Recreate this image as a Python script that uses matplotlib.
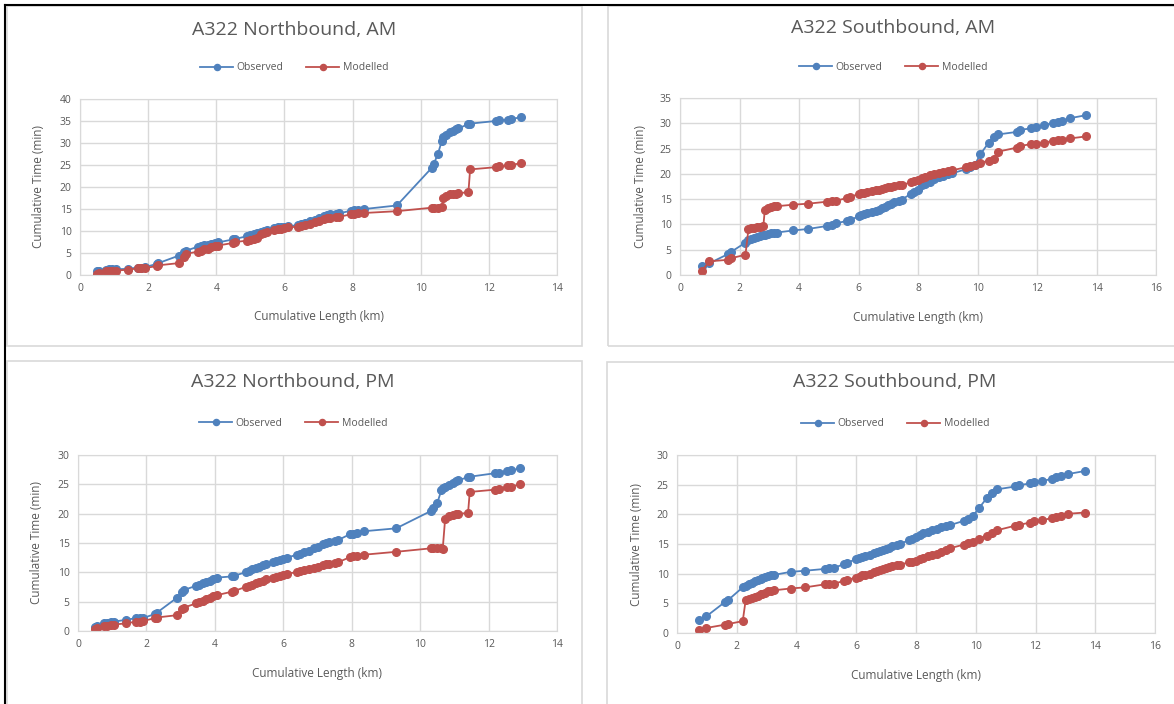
import matplotlib
matplotlib.use("Agg")
import matplotlib.pyplot as plt
from matplotlib.patches import Rectangle
from matplotlib.lines import Line2D

plt.rcParams['font.family'] = ['Open Sans', 'DejaVu Sans']

# cumulative length of each timing point (km), shared by AM and PM runs
nb_km = [0.5, 0.55, 0.75, 0.85, 0.95, 1.05, 1.4, 1.7, 1.8, 1.9, 2.25, 2.3, 2.9, 3.05, 3.1,
         3.45, 3.55, 3.65, 3.75, 3.85, 3.95, 4.05, 4.5, 4.55, 4.9, 5.0, 5.1, 5.2, 5.3, 5.4, 5.5,
         5.7, 5.8, 5.9, 6.0, 6.1, 6.4, 6.5, 6.6, 6.75, 6.9, 7.0, 7.15, 7.25, 7.35, 7.5, 7.6,
         7.95, 8.05, 8.15, 8.35, 9.3, 10.33, 10.38, 10.5, 10.62, 10.66, 10.73, 10.85, 10.95,
         11.05, 11.1, 11.4, 11.45, 12.2, 12.3, 12.55, 12.65, 12.93]

nb_am_obs = [0.8, 0.9, 1.2, 1.3, 1.3, 1.3, 1.4, 1.7, 1.7, 1.8, 2.5, 2.7, 4.4, 5.2, 5.5,
             6.4, 6.6, 6.8, 6.9, 7.1, 7.2, 7.4, 8.1, 8.2, 8.8, 9.1, 9.4, 9.6, 9.8, 10.0, 10.2,
             10.6, 10.8, 10.9, 11.0, 11.1, 11.3, 11.6, 11.9, 12.3, 12.6, 12.9, 13.3, 13.6, 13.8,
             13.9, 14.0, 14.6, 14.7, 14.8, 15.0, 15.8, 24.4, 25.2, 27.4, 30.5, 31.3, 31.8, 32.4,
             32.8, 33.1, 33.3, 34.3, 34.4, 35.0, 35.2, 35.3, 35.5, 35.8]
nb_am_mod = [0.2, 0.5, 0.9, 0.9, 1.0, 1.0, 1.2, 1.5, 1.5, 1.6, 2.0, 2.2, 2.7, 4.2, 4.8,
             5.3, 5.5, 5.8, 6.0, 6.3, 6.5, 6.7, 7.3, 7.5, 7.8, 8.0, 8.1, 8.3, 9.4, 9.6, 9.8,
             10.2, 10.4, 10.5, 10.6, 10.8, 11.0, 11.2, 11.4, 11.7, 12.0, 12.3, 12.7, 12.9, 13.0,
             13.1, 13.2, 13.8, 13.9, 14.0, 14.1, 14.5, 15.3, 15.3, 15.3, 15.4, 17.5, 17.9, 18.3,
             18.4, 18.5, 18.6, 18.8, 24.0, 24.5, 24.7, 24.9, 25.0, 25.4]
nb_pm_obs = [0.7, 0.9, 1.3, 1.4, 1.5, 1.6, 1.9, 2.2, 2.2, 2.2, 2.9, 3.1, 5.7, 6.7, 7.0,
             7.7, 7.9, 8.1, 8.4, 8.6, 8.9, 9.1, 9.3, 9.4, 10.0, 10.2, 10.5, 10.7, 10.9, 11.2, 11.4,
             11.7, 11.9, 12.1, 12.3, 12.5, 13.0, 13.2, 13.4, 13.7, 14.1, 14.3, 14.8, 15.0, 15.2,
             15.4, 15.5, 16.5, 16.6, 16.7, 17.0, 17.5, 20.5, 21.0, 21.8, 24.0, 24.3, 24.6, 24.9,
             25.2, 25.5, 25.7, 26.2, 26.3, 26.9, 27.0, 27.3, 27.4, 27.7]
nb_pm_mod = [0.3, 0.5, 0.8, 0.9, 1.0, 1.1, 1.3, 1.6, 1.6, 1.7, 2.2, 2.3, 2.7, 3.7, 4.0,
             4.7, 4.9, 5.1, 5.4, 5.6, 5.9, 6.1, 6.7, 6.8, 7.5, 7.7, 7.9, 8.1, 8.4, 8.6, 8.8,
             9.1, 9.2, 9.3, 9.6, 9.8, 10.0, 10.2, 10.4, 10.6, 10.8, 10.9, 11.3, 11.4, 11.5,
             11.6, 11.7, 12.6, 12.7, 12.8, 13.0, 13.5, 14.1, 14.1, 14.1, 14.1, 14.0, 19.1, 19.6,
             19.8, 19.9, 20.0, 20.1, 23.7, 24.1, 24.2, 24.5, 24.6, 25.0]

sb_km = [0.73, 0.98, 1.6, 1.7, 2.2, 2.3, 2.4, 2.5, 2.6, 2.7, 2.8, 2.85, 2.95, 3.05, 3.15, 3.25,
         3.8, 4.3, 4.95, 5.1, 5.25, 5.6, 5.7, 6.0, 6.1, 6.2, 6.3, 6.45, 6.6, 6.7, 6.8, 6.9,
         7.0, 7.1, 7.2, 7.35, 7.45, 7.75, 7.85, 8.0, 8.15, 8.25, 8.4, 8.55, 8.7, 8.85, 9.0,
         9.15, 9.6, 9.75, 9.9, 10.1, 10.38, 10.55, 10.7, 11.33, 11.44, 11.8, 11.95, 12.23,
         12.55, 12.7, 12.85, 13.1, 13.65]

sb_am_obs = [1.8, 2.3, 4.1, 4.5, 6.4, 6.9, 7.1, 7.3, 7.5, 7.7, 7.9, 8.0, 8.1, 8.3, 8.4, 8.4,
             8.8, 9.1, 9.7, 9.9, 10.2, 10.7, 10.8, 11.6, 11.8, 12.0, 12.2, 12.4, 12.6, 12.9,
             13.2, 13.5, 13.8, 14.1, 14.4, 14.7, 14.9, 16.0, 16.4, 16.9, 17.7, 18.0, 18.4, 18.9,
             19.3, 19.6, 19.9, 20.1, 20.9, 21.3, 21.7, 23.9, 26.2, 27.3, 27.8, 28.3, 28.7, 29.0,
             29.2, 29.7, 30.0, 30.2, 30.4, 31.0, 31.6]
sb_am_mod = [0.7, 2.7, 3.0, 3.3, 4.0, 9.0, 9.2, 9.3, 9.4, 9.5, 9.6, 12.8, 13.3, 13.5, 13.6, 13.6,
             13.9, 14.1, 14.5, 14.6, 14.7, 15.2, 15.4, 16.0, 16.2, 16.3, 16.4, 16.6, 16.8, 16.9,
             17.0, 17.2, 17.4, 17.5, 17.6, 17.7, 17.8, 18.3, 18.5, 18.8, 19.2, 19.4, 19.7, 19.9,
             20.1, 20.3, 20.5, 20.7, 21.3, 21.5, 21.7, 22.2, 22.6, 23.0, 24.4, 25.2, 25.5, 25.9,
             26.0, 26.2, 26.5, 26.6, 26.7, 27.0, 27.4]
sb_pm_obs = [2.2, 2.8, 5.2, 5.5, 7.7, 8.0, 8.2, 8.4, 8.7, 8.9, 9.1, 9.2, 9.4, 9.6, 9.7, 9.8,
             10.3, 10.5, 10.8, 10.9, 11.0, 11.6, 11.8, 12.5, 12.7, 12.8, 13.0, 13.2, 13.4, 13.6,
             13.8, 14.0, 14.2, 14.4, 14.6, 14.8, 15.0, 15.6, 15.8, 16.1, 16.5, 16.8, 17.1, 17.4,
             17.6, 17.8, 18.0, 18.2, 18.9, 19.2, 19.7, 21.0, 22.8, 23.6, 24.2, 24.7, 24.9, 25.2,
             25.4, 25.6, 26.0, 26.3, 26.5, 26.8, 27.3]
sb_pm_mod = [0.45, 0.85, 1.4, 1.5, 2.0, 5.6, 5.8, 5.9, 6.1, 6.3, 6.5, 6.6, 6.8, 7.0, 7.1, 7.2,
             7.5, 7.7, 8.2, 8.2, 8.3, 8.8, 9.0, 9.3, 9.5, 9.7, 9.8, 10.0, 10.3, 10.5, 10.6, 10.8,
             11.0, 11.1, 11.3, 11.4, 11.5, 11.9, 12.0, 12.1, 12.5, 12.7, 12.9, 13.1, 13.3, 13.6,
             14.0, 14.3, 14.9, 15.1, 15.4, 15.9, 16.4, 16.9, 17.3, 18.1, 18.2, 18.6, 18.8, 19.0,
             19.4, 19.6, 19.8, 20.1, 20.3]

W, H = 1174, 704
BLUE = '#4F81BD'
RED = '#C0504D'
GREY = '#595959'
GRID = '#D9D9D9'

fig = plt.figure(figsize=(W / 100, H / 100), dpi=100)

# panel frames (pixel coords: x0, y0 top, x1, y1 bottom)
for x0, y0, x1, y1 in [(7, 6, 582, 346), (608, 6, 1180, 346),
                       (7, 361, 582, 710), (607, 362, 1180, 710)]:
    fig.patches.append(Rectangle((x0 / W, 1 - y1 / H), (x1 - x0) / W, (y1 - y0) / H,
                                 transform=fig.transFigure, fill=False,
                                 edgecolor='#D9D9D9', linewidth=1.2))
fig.add_artist(Line2D([5 / W, 5 / W], [0, 1 - 5 / H], transform=fig.transFigure,
                      color='black', linewidth=1.5))
fig.add_artist(Line2D([5 / W, 1], [1 - 5 / H, 1 - 5 / H], transform=fig.transFigure,
                      color='black', linewidth=1.5))

panels = [
    # title, x, obs, mod, axes box px (left, right, top, bottom), xmax, ymax,
    # panel centre x, title y, legend y, xlabel y, ylabel x
    ("A322 Northbound, AM", nb_km, nb_am_obs, nb_am_mod, (80, 557, 99, 275), 14, 40, 294, 30, 68, 317, 38),
    ("A322 Southbound, AM", sb_km, sb_am_obs, sb_am_mod, (680, 1156, 98, 275), 16, 35, 893, 28, 67, 318, 640),
    ("A322 Northbound, PM", nb_km, nb_pm_obs, nb_pm_mod, (78, 557, 455, 631), 14, 30, 293, 382, 423, 673, 36),
    ("A322 Southbound, PM", sb_km, sb_pm_obs, sb_pm_mod, (677, 1155, 455, 633), 16, 30, 895, 382, 424, 675, 637),
]

for title, xs, obs, mod, box, xmax, ymax, pcx, ty, ly, xly, ylx in panels:
    l, r, t, b = box
    ax = fig.add_axes([l / W, 1 - b / H, (r - l) / W, (b - t) / H])
    ax.plot(xs, obs, color=BLUE, marker='o', markersize=5.5, linewidth=1.3, label='Observed')
    ax.plot(xs, mod, color=RED, marker='o', markersize=5.5, linewidth=1.3, label='Modelled')
    ax.set_xlim(0, xmax)
    ax.set_ylim(0, ymax)
    ax.set_xticks(range(0, xmax + 1, 2))
    ax.set_yticks(range(0, ymax + 1, 5))
    ax.grid(True, color=GRID, linewidth=1)
    ax.set_axisbelow(True)
    for s in ax.spines.values():
        s.set_color(GRID)
    ax.tick_params(length=0, labelsize=7.5, labelcolor=GREY, pad=6)
    cx = (l + r) / 2
    fig.text(pcx / W, 1 - ty / H, title, ha='center', va='center', fontsize=14, color=GREY)
    fig.text(cx / W, 1 - xly / H, 'Cumulative Length (km)', ha='center', va='center',
             fontsize=8.5, color=GREY)
    fig.text(ylx / W, 1 - (t + b) / 2 / H, 'Cumulative Time (min)', ha='center', va='center',
             rotation=90, fontsize=8.5, color=GREY)
    ax.legend(loc='center', bbox_to_anchor=(pcx / W, 1 - ly / H), bbox_transform=fig.transFigure,
              ncol=2, frameon=False, fontsize=7.5, labelcolor=GREY, handlelength=3.2,
              columnspacing=2.2, handletextpad=0.3, markerscale=0.8)

fig.savefig('out.png', dpi=100)
